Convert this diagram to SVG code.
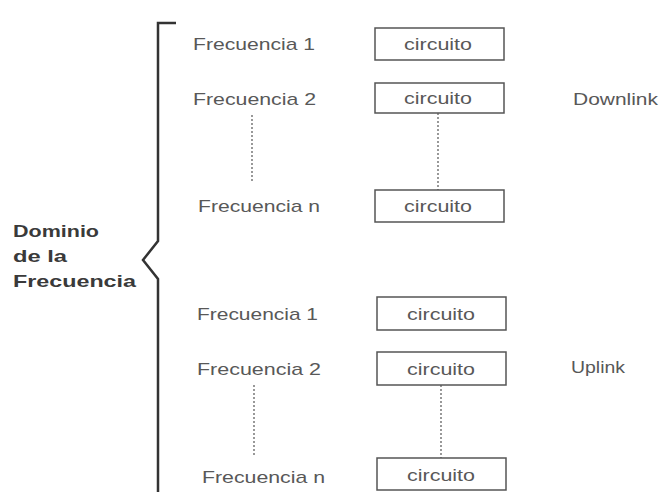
<svg xmlns="http://www.w3.org/2000/svg" width="663" height="492" viewBox="0 0 663 492">
  <style>
    .lbl { font-family: "Liberation Sans", Arial, sans-serif; font-size: 17px; fill: #585858; }
    .title { font-family: "Liberation Sans", Arial, sans-serif; font-size: 17px; font-weight: bold; fill: #3a3a3a; }
    .box rect { fill: #fff; stroke: #555; stroke-width: 1.5; }
    .box text { font-family: "Liberation Sans", Arial, sans-serif; font-size: 17px; fill: #585858; text-anchor: middle; }
    .dots { stroke: #555; stroke-width: 1.2; stroke-dasharray: 2 2; fill: none; }
    .brace { stroke: #333; stroke-width: 2.5; fill: none; }
  </style>
  <rect width="663" height="492" fill="#fff"/>

  <!-- domain label and brace -->
  <g id="domain">
    <text class="title" x="13" y="237" textLength="86" lengthAdjust="spacingAndGlyphs">Dominio</text>
    <text class="title" x="13" y="262" textLength="54" lengthAdjust="spacingAndGlyphs">de la</text>
    <text class="title" x="13" y="287" textLength="123" lengthAdjust="spacingAndGlyphs">Frecuencia</text>
    <path class="brace" d="M176,23 H158 V241 L143,260 L158,279 V492"/>
  </g>

  <!-- downlink frequencies -->
  <g id="dl-f1"><text class="lbl" x="193" y="50" textLength="122" lengthAdjust="spacingAndGlyphs">Frecuencia 1</text></g>
  <g id="dl-f2"><text class="lbl" x="193" y="105" textLength="123" lengthAdjust="spacingAndGlyphs">Frecuencia 2</text></g>
  <g id="dl-fn"><text class="lbl" x="198" y="212" textLength="122" lengthAdjust="spacingAndGlyphs">Frecuencia n</text></g>
  <g id="dl-c1" class="box"><rect x="375" y="28" width="129" height="32"/><text x="438" y="50" textLength="68" lengthAdjust="spacingAndGlyphs">circuito</text></g>
  <g id="dl-c2" class="box"><rect x="375" y="83" width="129" height="30"/><text x="438" y="104" textLength="68" lengthAdjust="spacingAndGlyphs">circuito</text></g>
  <g id="dl-cn" class="box"><rect x="375" y="190" width="129" height="32"/><text x="438" y="212" textLength="68" lengthAdjust="spacingAndGlyphs">circuito</text></g>
  <g id="downlink"><text class="lbl" x="573" y="105" textLength="85" lengthAdjust="spacingAndGlyphs">Downlink</text></g>

  <!-- uplink frequencies -->
  <g id="ul-f1"><text class="lbl" x="197" y="320" textLength="121" lengthAdjust="spacingAndGlyphs">Frecuencia 1</text></g>
  <g id="ul-f2"><text class="lbl" x="197" y="375" textLength="124" lengthAdjust="spacingAndGlyphs">Frecuencia 2</text></g>
  <g id="ul-fn"><text class="lbl" x="202" y="483" textLength="123" lengthAdjust="spacingAndGlyphs">Frecuencia n</text></g>
  <g id="ul-c1" class="box"><rect x="377" y="297" width="129" height="33"/><text x="441" y="320" textLength="68" lengthAdjust="spacingAndGlyphs">circuito</text></g>
  <g id="ul-c2" class="box"><rect x="377" y="352" width="129" height="33"/><text x="441" y="375" textLength="68" lengthAdjust="spacingAndGlyphs">circuito</text></g>
  <g id="ul-cn" class="box"><rect x="377" y="458" width="129" height="32"/><text x="441" y="481" textLength="68" lengthAdjust="spacingAndGlyphs">circuito</text></g>
  <g id="uplink"><text class="lbl" x="571" y="373" textLength="54" lengthAdjust="spacingAndGlyphs">Uplink</text></g>

  <!-- dotted continuation lines -->
  <g id="connectors">
    <line class="dots" x1="252" y1="115" x2="252" y2="183"/>
    <line class="dots" x1="438" y1="113" x2="438" y2="190"/>
    <line class="dots" x1="254" y1="385" x2="254" y2="455"/>
    <line class="dots" x1="441" y1="385" x2="441" y2="458"/>
  </g>
</svg>
